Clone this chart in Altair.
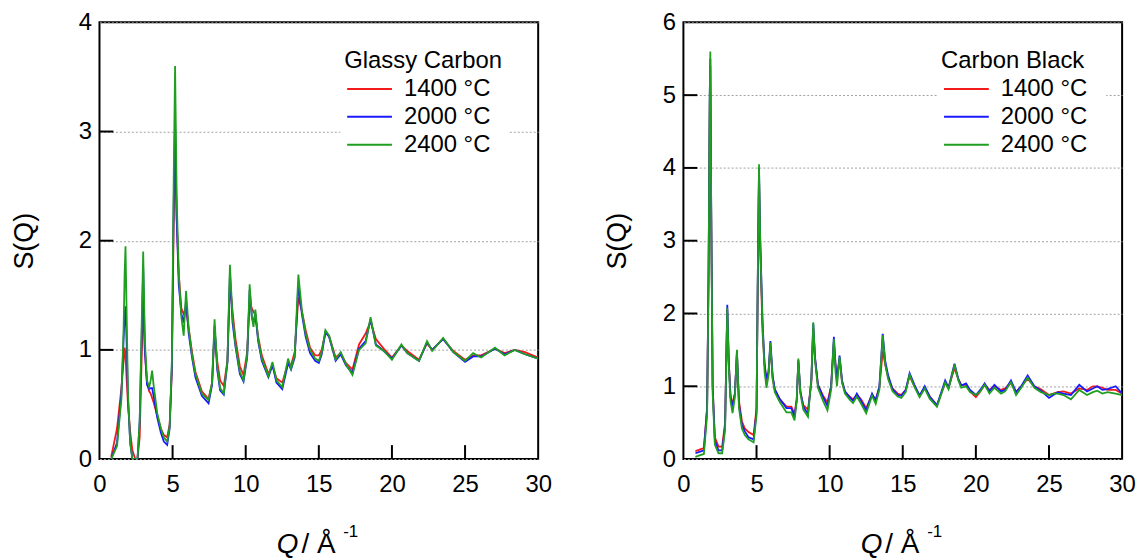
import altair as alt
import pandas as pd

# ---------------- data: Glassy Carbon ----------------
gc_q = [0.8, 1.2, 1.5, 1.65, 1.72, 1.78, 1.85, 1.95, 2.1, 2.25, 2.45, 2.6, 2.75, 2.88, 2.99, 3.1, 3.25, 3.4,
        3.5, 3.6, 3.7, 3.95, 4.2, 4.4, 4.63, 4.8, 4.95, 5.07, 5.17, 5.28, 5.42, 5.6, 5.76, 5.92, 6.1, 6.33,
        6.56, 7.0, 7.46, 7.7, 7.87, 8.05, 8.25, 8.5, 8.75, 8.92, 9.1, 9.3, 9.6, 9.85, 10.1, 10.27, 10.42,
        10.53, 10.66, 10.85, 11.1, 11.55, 11.83, 12.1, 12.5, 12.9, 13.1, 13.35, 13.6, 13.85, 14.1, 14.4,
        14.75, 15.0, 15.2, 15.45, 15.7, 16.15, 16.5, 16.85, 17.3, 17.75, 18.2, 18.54, 18.9, 19.45, 20.0,
        20.65, 21.05, 21.85, 22.4, 22.75, 23.5, 24.2, 25.0, 25.55, 26.1, 27.05, 27.7, 28.4, 29.1, 30.0]
gc_1400 = [0.02, 0.28, 0.65, 0.9, 1.02, 0.95, 0.75, 0.5, 0.25, 0.08, 0.0, 0.0, 0.2, 0.9, 1.45, 1.0, 0.7, 0.62,
           0.6, 0.56, 0.52, 0.4, 0.28, 0.22, 0.2, 0.32, 0.8, 2.1, 2.85, 2.2, 1.7, 1.38, 1.33, 1.38, 1.2, 0.98,
           0.8, 0.62, 0.55, 0.7, 1.18, 0.9, 0.72, 0.67, 0.9, 1.62, 1.35, 1.1, 0.85, 0.77, 0.98, 1.45, 1.38,
           1.35, 1.32, 1.12, 0.95, 0.78, 0.86, 0.74, 0.7, 0.88, 0.86, 0.98, 1.48, 1.35, 1.18, 1.02,
           0.95, 0.95, 1.0, 1.16, 1.13, 0.93, 0.97, 0.88, 0.82, 1.05, 1.15, 1.26, 1.1, 1.01, 0.93,
           1.04, 0.99, 0.91, 1.06, 1.0, 1.1, 0.99, 0.91, 0.95, 0.95, 1.01, 0.97, 1.0, 0.98, 0.93]
gc_2000 = [0.0, 0.15, 0.6, 1.1, 1.3, 1.4, 1.1, 0.55, 0.15, 0.0, 0.0, 0.0, 0.35, 1.1, 1.75, 1.0, 0.68, 0.64,
           0.65, 0.65, 0.58, 0.38, 0.24, 0.16, 0.13, 0.28, 0.85, 2.3, 3.1, 2.2, 1.6, 1.33, 1.25, 1.45, 1.15, 0.93,
           0.75, 0.58, 0.51, 0.68, 1.22, 0.82, 0.63, 0.59, 0.88, 1.7, 1.25, 1.03, 0.78, 0.71, 0.93, 1.55, 1.3,
           1.25, 1.33, 1.08, 0.9, 0.75, 0.86, 0.7, 0.64, 0.88, 0.82, 0.93, 1.6, 1.32, 1.12, 0.97,
           0.9, 0.88, 0.96, 1.16, 1.12, 0.9, 0.96, 0.86, 0.79, 1.01, 1.08, 1.28, 1.05, 0.99, 0.92,
           1.04, 0.97, 0.9, 1.07, 1.0, 1.1, 0.98, 0.89, 0.94, 0.94, 1.01, 0.96, 1.0, 0.96, 0.92]
gc_2400 = [0.0, 0.12, 0.55, 1.2, 1.7, 1.95, 1.4, 0.6, 0.15, 0.0, 0.0, 0.0, 0.35, 1.2, 1.9, 1.1, 0.72, 0.66,
           0.72, 0.81, 0.68, 0.42, 0.28, 0.2, 0.16, 0.3, 0.9, 2.5, 3.6, 2.4, 1.7, 1.3, 1.13, 1.54, 1.2, 0.95,
           0.78, 0.6, 0.54, 0.7, 1.28, 0.85, 0.65, 0.6, 0.9, 1.78, 1.3, 1.05, 0.8, 0.72, 0.95, 1.6, 1.3,
           1.21, 1.37, 1.1, 0.92, 0.76, 0.89, 0.72, 0.66, 0.92, 0.83, 0.95, 1.69, 1.35, 1.15, 1.0,
           0.92, 0.9, 0.98, 1.18, 1.13, 0.91, 0.98, 0.87, 0.77, 1.0, 1.06, 1.3, 1.04, 0.99, 0.91,
           1.05, 0.97, 0.9, 1.08, 0.99, 1.11, 0.98, 0.9, 0.97, 0.93, 1.02, 0.95, 1.0, 0.96, 0.92]

# ---------------- data: Carbon Black ----------------
cb_q = [0.82, 1.1, 1.4, 1.62, 1.72, 1.8, 1.84, 1.9, 2.0, 2.15, 2.4, 2.65, 2.85, 2.95, 3.0, 3.1, 3.22, 3.36,
        3.52, 3.66, 3.8, 4.0, 4.2, 4.45, 4.8, 5.0, 5.1, 5.17, 5.25, 5.41, 5.55, 5.68, 5.82, 5.95, 6.1, 6.25,
        6.6, 7.05, 7.38, 7.6, 7.75, 7.86, 8.0, 8.2, 8.52, 8.75, 8.88, 9.0, 9.2, 9.55, 9.85, 10.1, 10.29,
        10.4, 10.5, 10.68, 10.85, 11.05, 11.36, 11.6, 11.86, 12.15, 12.5, 12.9, 13.15, 13.4, 13.63, 13.8,
        14.0, 14.3, 14.66, 14.9, 15.2, 15.47, 15.8, 16.15, 16.5, 16.84, 17.34, 17.9, 18.13, 18.54, 18.8,
        19.0, 19.33, 19.6, 20.0, 20.3, 20.6, 20.93, 21.27, 21.72, 22.0, 22.4, 22.75, 23.1, 23.54, 24.0,
        24.45, 25.0, 25.3, 25.6, 26.0, 26.5, 27.07, 27.6, 28.0, 28.3, 28.65, 29.0, 29.56, 30.0]
cb_1400 = [0.11, 0.13, 0.15, 0.7, 2.5, 4.8, 5.4, 3.4, 1.0, 0.3, 0.17, 0.17, 0.5, 1.55, 2.05, 1.35, 0.88, 0.75,
           0.9, 1.45, 0.8, 0.52, 0.42, 0.37, 0.33, 0.7, 2.7, 3.9, 2.9, 1.75, 1.3, 1.08, 1.18, 1.55, 1.12, 0.95,
           0.82, 0.72, 0.72, 0.62, 0.82, 1.33, 0.92, 0.74, 0.68, 1.05, 1.8, 1.38, 1.02, 0.87, 0.78, 1.0, 1.6,
           1.3, 1.1, 1.38, 1.05, 0.92, 0.86, 0.82, 0.88, 0.82, 0.7, 0.88, 0.82, 0.98, 1.48, 1.3,
           1.12, 0.97, 0.9, 0.88, 0.95, 1.14, 1.0, 0.87, 0.98, 0.86, 0.74, 1.05, 0.98, 1.25, 1.1,
           1.02, 1.02, 0.93, 0.85, 0.93, 1.02, 0.95, 1.0, 0.95, 0.97, 1.05, 0.92, 1.0, 1.1, 1.0,
           0.96, 0.88, 0.9, 0.92, 0.93, 0.9, 0.97, 0.95, 1.0, 1.0, 0.98, 0.95, 0.95, 0.9]
cb_2000 = [0.08, 0.1, 0.12, 0.7, 2.6, 5.0, 5.5, 3.5, 1.0, 0.25, 0.12, 0.12, 0.45, 1.6, 2.12, 1.35, 0.85, 0.72,
           0.9, 1.48, 0.75, 0.47, 0.38, 0.3, 0.27, 0.65, 2.8, 4.0, 3.05, 1.9, 1.3, 1.1, 1.2, 1.62, 1.15, 0.96,
           0.82, 0.7, 0.7, 0.58, 0.82, 1.36, 0.93, 0.72, 0.62, 1.1, 1.86, 1.4, 1.02, 0.85, 0.73, 1.0, 1.68,
           1.3, 1.08, 1.42, 1.08, 0.93, 0.85, 0.8, 0.9, 0.8, 0.67, 0.9, 0.8, 1.0, 1.72, 1.35,
           1.15, 0.96, 0.88, 0.87, 0.95, 1.18, 1.02, 0.87, 1.0, 0.86, 0.74, 1.08, 0.98, 1.31, 1.1,
           1.01, 1.04, 0.95, 0.88, 0.95, 1.04, 0.93, 1.02, 0.93, 0.95, 1.08, 0.92, 1.0, 1.15, 1.0,
           0.94, 0.84, 0.88, 0.92, 0.9, 0.88, 1.02, 0.93, 0.97, 1.0, 0.95, 0.96, 1.0, 0.9]
cb_2400 = [0.03, 0.05, 0.07, 0.6, 2.5, 5.0, 5.6, 3.5, 0.9, 0.2, 0.08, 0.08, 0.4, 1.5, 2.08, 1.3, 0.8, 0.63,
           0.85, 1.5, 0.7, 0.42, 0.33, 0.27, 0.23, 0.6, 2.8, 4.05, 3.0, 1.85, 1.2, 0.98, 1.15, 1.6, 1.1, 0.92,
           0.78, 0.64, 0.64, 0.53, 0.8, 1.38, 0.9, 0.68, 0.58, 1.1, 1.88, 1.35, 0.98, 0.8, 0.67, 0.95, 1.65,
           1.2, 1.0, 1.4, 1.05, 0.9, 0.82, 0.77, 0.86, 0.76, 0.63, 0.87, 0.76, 0.95, 1.7, 1.3,
           1.1, 0.93, 0.86, 0.84, 0.92, 1.16, 0.99, 0.85, 0.97, 0.83, 0.72, 1.05, 0.96, 1.3, 1.08,
           0.98, 1.0, 0.92, 0.88, 0.93, 1.02, 0.9, 0.98, 0.9, 0.93, 1.06, 0.88, 0.98, 1.12, 0.98,
           0.92, 0.88, 0.9, 0.9, 0.88, 0.82, 0.95, 0.88, 0.92, 0.94, 0.9, 0.92, 0.9, 0.88]

temps = ["1400 °C", "2000 °C", "2400 °C"]
colors = ["#f21a1a", "#1a1aff", "#1f9e1f"]
x_ticks = [5, 10, 15, 20, 25]
x_labels = [0, 5, 10, 15, 20, 25, 30]
gc_y_labels = [0, 1, 2, 3, 4]
cb_y_labels = [0, 1, 2, 3, 4, 5, 6]

FONT = "Liberation Sans"
W, H = 441, 439


def long_df(q, series):
    rows = []
    for t, s in zip(temps, series):
        for qi, si in zip(q, s):
            rows.append({"Q": qi, "S": si, "T": t})
    return pd.DataFrame(rows)


def panel(df, ymax, ylabels, legend_title, legend_x, title_pad):
    xs = alt.Scale(domain=[0, 30], nice=False, zero=False)
    ys = alt.Scale(domain=[0, ymax], nice=False)
    cs = alt.Scale(domain=temps, range=colors)
    x_axis = alt.Axis(values=x_labels, title=None, grid=False, ticks=False, domain=False,
                      labelFontSize=24, labelPadding=14, labelFlush=False, labelFont=FONT,
                      labelColor="black")
    y_axis = alt.Axis(values=ylabels, title="S(Q)", grid=True, gridDash=[2, 2], gridColor="#a0a0a0",
                      ticks=False, domain=False,
                      labelFontSize=24, labelPadding=8, labelFont=FONT, labelColor="black", labelFlush=False,
                      titleFont=FONT, titleFontSize=27, titleFontWeight="normal", titleColor="black",
                      titlePadding=title_pad)
    lines = alt.Chart(df).mark_line(strokeWidth=1.8, clip=True).encode(
        x=alt.X("Q:Q", scale=xs, axis=x_axis),
        y=alt.Y("S:Q", scale=ys, axis=y_axis),
        color=alt.Color("T:N", scale=cs, legend=None),
    )
    xt = alt.Chart(pd.DataFrame({"Q": x_ticks})).mark_rule(color="black", strokeWidth=2).encode(
        x=alt.X("Q:Q", scale=xs, axis=x_axis), y=alt.value(H), y2=alt.value(H - 14))
    yt = alt.Chart(pd.DataFrame({"S": ylabels[1:-1]})).mark_rule(color="black", strokeWidth=2).encode(
        y=alt.Y("S:Q", scale=ys, axis=y_axis), x=alt.value(0), x2=alt.value(14))
    t1 = alt.Chart(pd.DataFrame({"t": ["Q"]})).mark_text(
        font=FONT, fontSize=28, fontStyle="italic", align="right", baseline="alphabetic", color="black"
    ).encode(text="t:N", x=alt.value(200), y=alt.value(533))
    t2 = alt.Chart(pd.DataFrame({"t": ["\u00a0/\u00a0Å"]})).mark_text(
        font=FONT, fontSize=28, align="left", baseline="alphabetic", color="black"
    ).encode(text="t:N", x=alt.value(203), y=alt.value(533))
    t3 = alt.Chart(pd.DataFrame({"t": ["-1"]})).mark_text(
        font=FONT, fontSize=17, align="left", baseline="alphabetic", color="black"
    ).encode(text="t:N", x=alt.value(245), y=alt.value(517))

    # legend drawn from the same color scale
    ldf = pd.DataFrame({"T": temps, "row": [0, 1, 2]})
    lx = legend_x + 4
    bg = alt.Chart(pd.DataFrame({"a": [0]})).mark_rect(fill="white").encode(
        x=alt.value(lx - 4), x2=alt.value(lx + 166), y=alt.value(25), y2=alt.value(137))
    ltitle = alt.Chart(pd.DataFrame({"t": [legend_title]})).mark_text(
        font=FONT, fontSize=24, align="left", baseline="middle", color="black"
    ).encode(text="t:N", x=alt.value(lx), y=alt.value(39))
    roff = alt.YOffset("row:Q", scale=alt.Scale(domain=[0, 2], range=[0, 56]))
    lsym = alt.Chart(ldf).mark_rule(strokeWidth=2).encode(
        x=alt.value(lx + 3), x2=alt.value(lx + 48), y=alt.value(67), yOffset=roff,
        color=alt.Color("T:N", scale=cs, legend=None))
    llab = alt.Chart(ldf).mark_text(
        font=FONT, fontSize=24, align="left", baseline="middle", color="black"
    ).encode(text="T:N", x=alt.value(lx + 60), y=alt.value(67), yOffset=roff)

    return alt.layer(lines, xt, yt, t1, t2, t3, bg, ltitle, lsym, llab).properties(
        width=W, height=H, view=alt.ViewBackground(stroke="black", strokeWidth=2))


left = panel(long_df(gc_q, [gc_1400, gc_2000, gc_2400]), 4, gc_y_labels, "Glassy Carbon", 242, 40)
right = panel(long_df(cb_q, [cb_1400, cb_2000, cb_2400]), 6, cb_y_labels, "Carbon Black", 255, 31)

chart = alt.hconcat(left, right, spacing=146, bounds="flush").resolve_scale(color="independent").properties(
    padding={"left": 9, "top": 8, "right": 5, "bottom": 0}, background="white"
)

chart.save("out.html", embed_options={"renderer": "svg", "actions": False})
